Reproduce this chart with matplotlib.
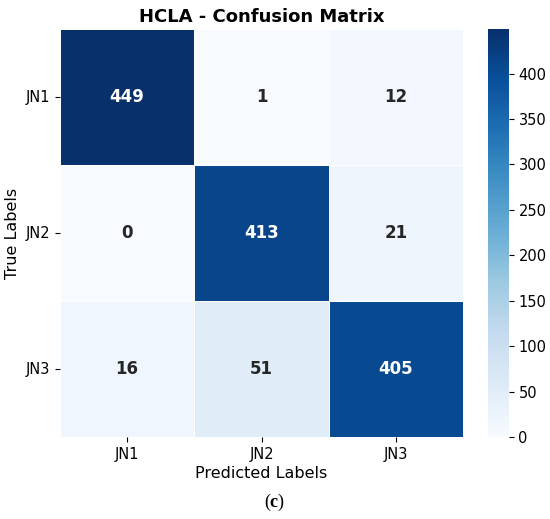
import numpy as np
import matplotlib
matplotlib.use("Agg")
import matplotlib.pyplot as plt
import seaborn as sns

labels = ["JN1", "JN2", "JN3"]
row_jn1 = [449, 1, 12]
row_jn2 = [0, 413, 21]
row_jn3 = [16, 51, 405]
cm = np.array([row_jn1, row_jn2, row_jn3])

plt.rcParams["mathtext.fontset"] = "custom"
plt.rcParams["mathtext.rm"] = "Liberation Serif"
plt.rcParams["mathtext.bf"] = "Liberation Serif:bold"

fig = plt.figure(figsize=(5.5, 5.19), dpi=100)
ax = fig.add_axes([0.109, 0.158, 0.733, 0.786])
cax = fig.add_axes([0.887, 0.158, 0.038, 0.786])

sns.heatmap(cm, annot=True, fmt="d", cmap="Blues", ax=ax, cbar_ax=cax,
            linewidths=0.5, linecolor="white",
            xticklabels=labels, yticklabels=labels,
            annot_kws={"fontsize": 12, "fontweight": "bold"})

ax.set_title("HCLA - Confusion Matrix", fontsize=13, fontweight="bold", pad=5)
ax.set_xlabel("Predicted Labels", fontsize=11.5, labelpad=3)
ax.set_ylabel("True Labels", fontsize=11.5)
ax.tick_params(labelsize=10.5)
ax.set_yticklabels(labels, rotation=0)
cax.tick_params(labelsize=10.5)
cax.set_yticks([0, 50, 100, 150, 200, 250, 300, 350, 400])
for s in cax.spines.values():
    s.set_visible(False)

fig.text(0.5, 0.031, r"$(\mathbf{c})$", ha="center", va="center", fontsize=13)

fig.savefig("out.png", dpi=100)
